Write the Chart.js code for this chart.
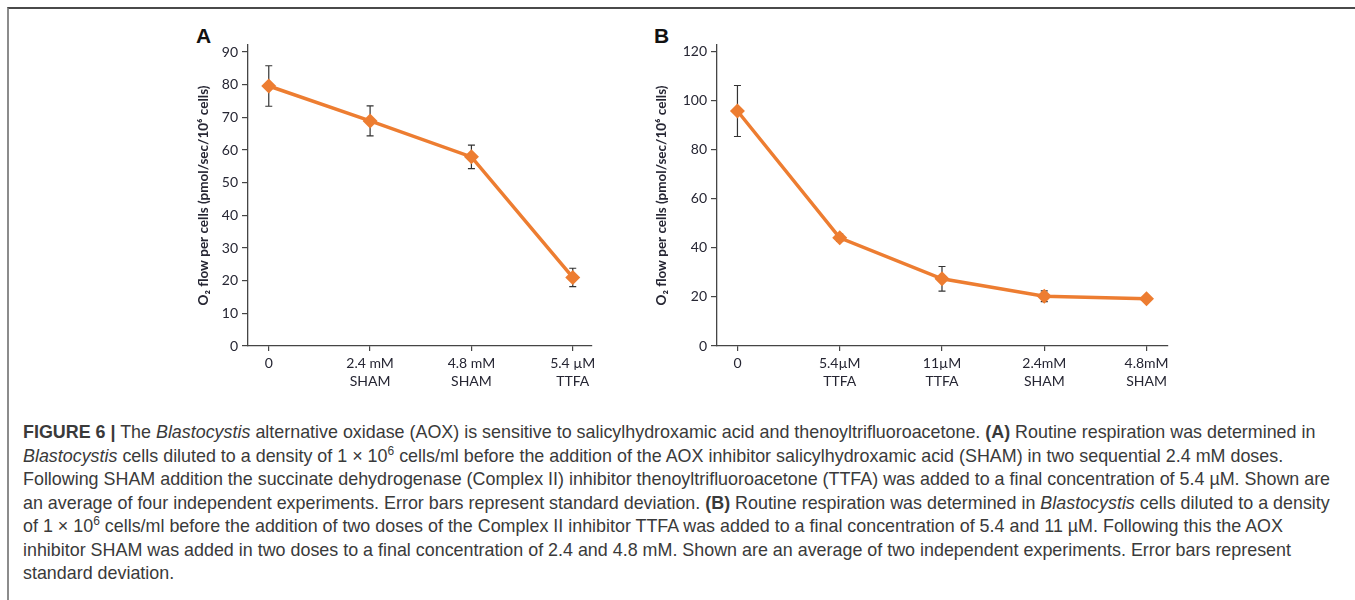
<!DOCTYPE html>
<html>
<head>
<meta charset="utf-8">
<script src="https://cdn.jsdelivr.net/npm/chart.js@4.4.1/dist/chart.umd.min.js"></script>
<style>
  html,body{margin:0;padding:0;background:#fff;}
  body{width:1355px;height:600px;position:relative;overflow:hidden;}
  .frame{position:absolute;left:7px;top:7px;right:-10px;bottom:-10px;border-top:2px solid #4a4a4a;border-left:2px solid #8c8c8c;}
  .cv{position:absolute;}
  .panel{position:absolute;font-family:"Liberation Sans",Arial,sans-serif;font-weight:bold;font-size:21px;color:#111;line-height:1;}
  .cap{position:absolute;left:23px;font-family:"Liberation Sans",Arial,sans-serif;font-size:17.9px;line-height:20px;color:#3a3a3a;white-space:nowrap;}
  .cap sup{font-size:12px;vertical-align:7px;line-height:0;}
</style>
</head>
<body>
<div class="frame"></div>
<div class="panel" style="left:196px;top:25px;">A</div>
<div class="panel" style="left:654px;top:25px;">B</div>
<div class="cv" style="left:190px;top:30px;width:420px;height:366px;"><canvas id="cA"></canvas></div>
<div class="cv" style="left:648px;top:30px;width:542px;height:366px;"><canvas id="cB"></canvas></div>

<div class="cap" style="top:422px;"><b>FIGURE 6 |</b> The <i>Blastocystis</i> alternative oxidase (AOX) is sensitive to salicylhydroxamic acid and thenoyltrifluoroacetone. <b>(A)</b> Routine respiration was determined in</div>
<div class="cap" style="top:445.5px;"><i>Blastocystis</i> cells diluted to a density of 1 × 10<sup>6</sup> cells/ml before the addition of the AOX inhibitor salicylhydroxamic acid (SHAM) in two sequential 2.4 mM doses.</div>
<div class="cap" style="top:469px;">Following SHAM addition the succinate dehydrogenase (Complex II) inhibitor thenoyltrifluoroacetone (TTFA) was added to a final concentration of 5.4 µM. Shown are</div>
<div class="cap" style="top:492.5px;">an average of four independent experiments. Error bars represent standard deviation. <b>(B)</b> Routine respiration was determined in <i>Blastocystis</i> cells diluted to a density</div>
<div class="cap" style="top:516px;">of 1 × 10<sup>6</sup> cells/ml before the addition of two doses of the Complex II inhibitor TTFA was added to a final concentration of 5.4 and 11 µM. Following this the AOX</div>
<div class="cap" style="top:539.5px;">inhibitor SHAM was added in two doses to a final concentration of 2.4 and 4.8 mM. Shown are an average of two independent experiments. Error bars represent</div>
<div class="cap" style="top:563px;">standard deviation.</div>

<script>
// ---- data ----
const categoriesA = ["0", ["2.4 mM", "SHAM"], ["4.8 mM", "SHAM"], ["5.4 µM", "TTFA"]];
const valuesA = [79.6, 68.9, 57.9, 21.0];
const errorsA = [6.2, 4.6, 3.6, 2.8];
const yTicksA = [0, 10, 20, 30, 40, 50, 60, 70, 80, 90];

const categoriesB = ["0", ["5.4µM", "TTFA"], ["11µM", "TTFA"], ["2.4mM", "SHAM"], ["4.8mM", "SHAM"]];
const valuesB = [95.8, 44.1, 27.4, 20.3, 19.3];
const errorsB = [10.4, 1.5, 5.0, 2.2, 1.0];
const yTicksB = [0, 20, 40, 60, 80, 100, 120];

const yTitle = "O₂ flow per cells (pmol/sec/10⁶ cells)";

// ---- styles ----
const ORANGE = "#ED7D31";
const AXIS = "#454545";
const TXT = "#262633";
const FONT = "Lato, 'Open Sans', sans-serif";

const errorBars = {
  id: "errorBars",
  beforeDatasetsDraw(chart) {
    const {ctx, scales: {x, y}} = chart;
    chart.data.datasets.forEach(ds => {
      const errs = ds.errors || [];
      ctx.save();
      ctx.strokeStyle = "#333";
      ctx.lineWidth = 1.2;
      ds.data.forEach((p, i) => {
        const e = errs[i];
        if (!e) return;
        const px = x.getPixelForValue(p.x);
        const top = y.getPixelForValue(p.y + e);
        const bot = y.getPixelForValue(p.y - e);
        const w = 3.5;
        ctx.beginPath();
        ctx.moveTo(px, top); ctx.lineTo(px, bot);
        ctx.moveTo(px - w, top); ctx.lineTo(px + w, top);
        ctx.moveTo(px - w, bot); ctx.lineTo(px + w, bot);
        ctx.stroke();
      });
      ctx.restore();
    });
  }
};

function makeChart(id, cats, vals, errs, yTicks, yMax, xMin, xMax, yWidth, padRight) {
  const data = vals.map((v, i) => ({x: i, y: v}));
  return new Chart(document.getElementById(id), {
    type: "line",
    data: {
      datasets: [{
        data: data,
        errors: errs,
        borderColor: ORANGE,
        backgroundColor: ORANGE,
        borderWidth: 3.5,
        pointStyle: "rectRot",
        pointRadius: 7.5,
        pointHoverRadius: 7.5,
        pointBorderWidth: 0,
        tension: 0
      }]
    },
    options: {
      responsive: true,
      maintainAspectRatio: false,
      animation: false,
      events: [],
      layout: {padding: {left: 6, top: 15, right: padRight, bottom: 0}},
      plugins: {legend: {display: false}, tooltip: {enabled: false}},
      scales: {
        x: {
          type: "linear",
          min: xMin, max: xMax,
          afterBuildTicks: s => { s.ticks = cats.map((c, i) => ({value: i})); },
          afterFit: s => { s.height = 50; },
          ticks: {
            callback: (v) => cats[v],
            color: TXT,
            font: {family: FONT, size: 14, lineHeight: 1.3},
            padding: 3,
            maxRotation: 0,
            autoSkip: false
          },
          grid: {display: true, drawOnChartArea: false, drawTicks: true, tickLength: 5, color: AXIS, lineWidth: 1.2},
          border: {display: true, color: AXIS, width: 1.3}
        },
        y: {
          type: "linear",
          min: 0, max: yMax,
          afterBuildTicks: s => { s.ticks = yTicks.map(v => ({value: v})); },
          afterFit: s => { s.width = yWidth; },
          ticks: {
            color: TXT,
            font: {family: FONT, size: 14},
            padding: 4
          },
          title: {
            display: true,
            text: yTitle,
            color: TXT,
            font: {family: FONT, size: 13.5, weight: "bold"},
            padding: 0
          },
          grid: {display: true, drawOnChartArea: false, drawTicks: true, tickLength: 6, color: AXIS, lineWidth: 1.2},
          border: {display: true, color: AXIS, width: 1.3}
        }
      }
    },
    plugins: [errorBars]
  });
}

makeChart("cA", categoriesA, valuesA, errorsA, yTicksA, 92.15, -0.205, 3.19, 52, 18);
makeChart("cB", categoriesB, valuesB, errorsB, yTicksB, 122.7, -0.2, 4.21, 63, 22);
</script>
</body>
</html>
